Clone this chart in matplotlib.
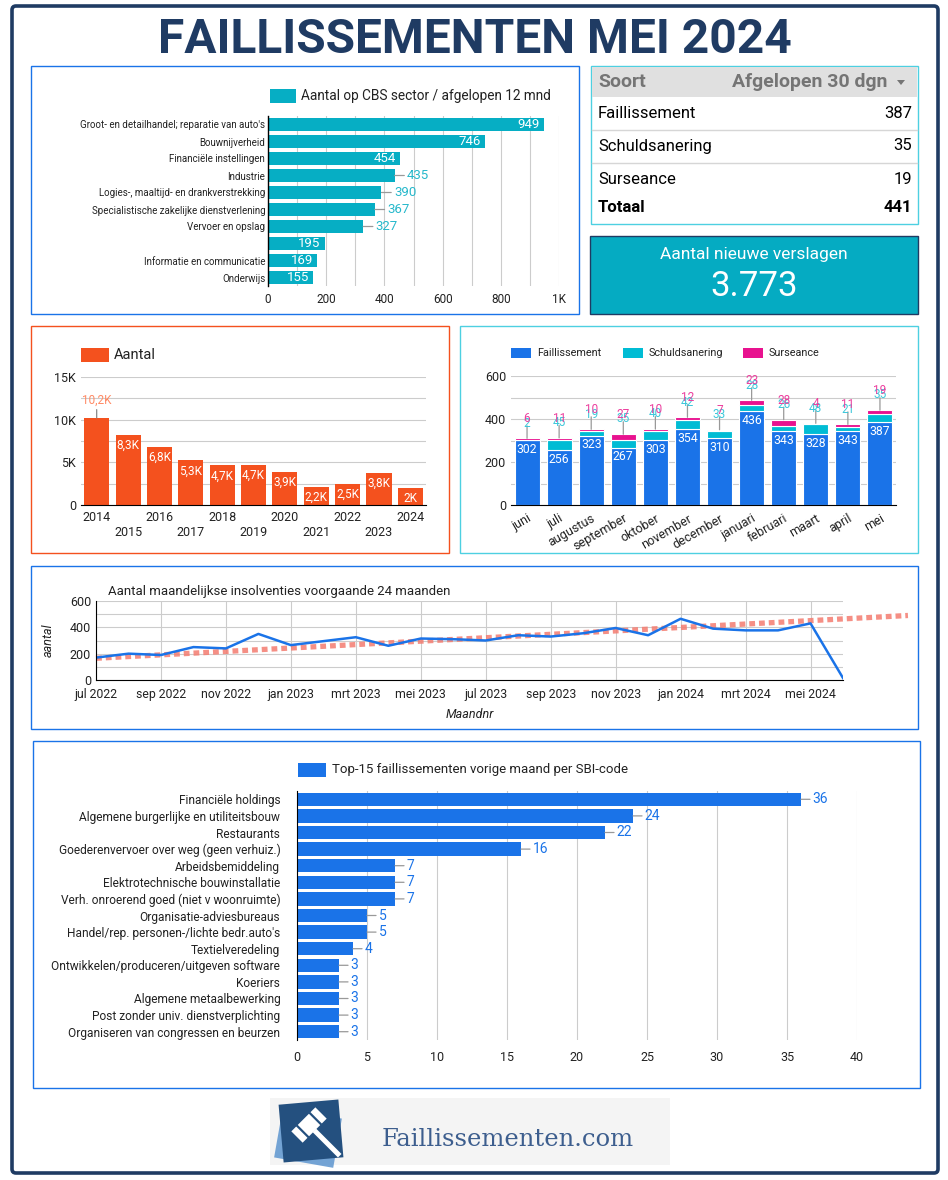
import matplotlib
matplotlib.use('Agg')
import matplotlib.pyplot as plt
from matplotlib.patches import Rectangle, Polygon, FancyBboxPatch
import numpy as np

W, H = 948, 1180
plt.rcParams['font.family'] = ['Roboto', 'DejaVu Sans']

# ---------------- data ----------------
title_text = 'FAILLISSEMENTEN MEI 2024'

cbs_sectors = ["Groot- en detailhandel; reparatie van auto's", 'Bouwnijverheid',
               'Financiële instellingen', 'Industrie',
               'Logies-, maaltijd- en drankverstrekking',
               'Specialistische zakelijke dienstverlening', 'Vervoer en opslag', '',
               'Informatie en communicatie', 'Onderwijs']
cbs_values = [949, 746, 454, 435, 390, 367, 327, 195, 169, 155]
cbs_label_inside = [True, True, True, False, False, False, False, True, True, True]

table_rows = ['Faillissement', 'Schuldsanering', 'Surseance']
table_values = [387, 35, 19]
table_total = 441
new_reports_label = 'Aantal nieuwe verslagen'
new_reports_value = '3.773'

years = [2014, 2015, 2016, 2017, 2018, 2019, 2020, 2021, 2022, 2023, 2024]
year_values = [10200, 8260, 6800, 5260, 4650, 4720, 3900, 2160, 2500, 3760, 2000]

months12 = ['juni', 'juli', 'augustus', 'september', 'oktober', 'november',
            'december', 'januari', 'februari', 'maart', 'april', 'mei']
faill = [302, 256, 323, 267, 303, 354, 310, 436, 343, 328, 343, 387]
schuld = [2, 45, 19, 35, 40, 42, 33, 28, 26, 48, 21, 35]
surs = [6, 11, 10, 27, 10, 12, 7, 23, 28, 4, 11, 19]

monthly_totals = [170, 200, 190, 250, 240, 350, 265, 295, 325, 260, 315, 310,
                  300, 340, 330, 355, 395, 340, 465, 390, 377, 377, 430, 15]
month_tick_labels = ['jul 2022', 'sep 2022', 'nov 2022', 'jan 2023', 'mrt 2023',
                     'mei 2023', 'jul 2023', 'sep 2023', 'nov 2023', 'jan 2024',
                     'mrt 2024', 'mei 2024']
trend_months = [0, 25]
trend_values = [165, 490]

sbi_names = ['Financiële holdings', 'Algemene burgerlijke en utiliteitsbouw',
             'Restaurants', 'Goederenvervoer over weg (geen verhuiz.)',
             'Arbeidsbemiddeling', 'Elektrotechnische bouwinstallatie',
             'Verh. onroerend goed (niet v woonruimte)', 'Organisatie-adviesbureaus',
             'Handel/rep. personen-/lichte bedr.auto\'s', 'Textielveredeling',
             'Ontwikkelen/produceren/uitgeven software', 'Koeriers',
             'Algemene metaalbewerking', 'Post zonder univ. dienstverplichting',
             'Organiseren van congressen en beurzen']
sbi_values = [36, 24, 22, 16, 7, 7, 7, 5, 5, 4, 3, 3, 3, 3, 3]

# ---------------- colours ----------------
NAVY = '#1f3b63'
BLUE = '#1a73e8'
TEAL = '#06aec4'
CYAN_BORDER = '#4dd0e1'
ORANGE = '#f4511e'
S_TEAL = '#00bcd4'
PINK = '#e8128f'
GRID = '#cccccc'
TXT = '#222222'
LOGO_DARK = '#24507f'

fig = plt.figure(figsize=(W / 100, H / 100), dpi=100)
fig.patch.set_facecolor('white')
bg = fig.add_axes([0, 0, 1, 1])
bg.set_xlim(0, W)
bg.set_ylim(H, 0)
bg.axis('off')


def px_axes(x0, y0, x1, y1):
    ax = fig.add_axes([x0 / W, 1 - y1 / H, (x1 - x0) / W, (y1 - y0) / H])
    ax.patch.set_alpha(0)
    return ax


def box(x0, y0, x1, y1, ec, fc='white', lw=1.0):
    bg.add_patch(Rectangle((x0, y0), x1 - x0, y1 - y0, ec=ec, fc=fc, lw=lw))


def style_axes(ax):
    for s in ax.spines.values():
        s.set_visible(False)
    ax.tick_params(length=0, colors=TXT, labelsize=9)


# outer frame + title
bg.add_patch(FancyBboxPatch((12, 6), 926, 1167, boxstyle='round,pad=0,rounding_size=4',
                            ec=NAVY, fc='none', lw=2.6))
bg.text(475, 40, title_text, ha='center', va='center', fontsize=34.5,
        fontweight='bold', color=NAVY)

# ---------------- Panel A: CBS sectors ----------------
box(31, 66, 579, 314, BLUE)
bg.add_patch(Rectangle((270, 89), 26, 14, fc=TEAL, ec='none'))
bg.text(301, 96, 'Aantal op CBS sector / afgelopen 12 mnd', ha='left', va='center',
        fontsize=9.8, color=TXT)
axA = px_axes(268, 116, 559, 286)
style_axes(axA)
yA = np.arange(len(cbs_values))
axA.barh(yA, cbs_values, height=0.82, color=TEAL, zorder=2)
axA.set_ylim(len(cbs_values) - 0.5, -0.5)
axA.set_xlim(0, 1000)
axA.set_xticks([0, 200, 400, 600, 800, 1000])
axA.set_xticklabels(['0', '200', '400', '600', '800', '1K'], fontsize=8.5)
axA.tick_params(axis='x', pad=5)
axA.set_xticks(np.arange(0, 1001, 100), minor=True)
axA.tick_params(which='minor', length=0)
axA.grid(axis='x', which='both', color=GRID, lw=0.8, zorder=0)
axA.set_axisbelow(True)
axA.set_yticks(yA)
axA.set_yticklabels(cbs_sectors, fontsize=7.0)
axA.tick_params(axis='y', pad=2)
axA.spines['left'].set_visible(True)
axA.spines['left'].set_color('black')
axA.spines['left'].set_linewidth(1)
axA.spines['left'].set_zorder(3)
for i, v in enumerate(cbs_values):
    if cbs_label_inside[i]:
        axA.annotate(str(v), (v, i), xytext=(-3, 0), textcoords='offset points',
                     ha='right', va='center', color='white', fontsize=9.5, zorder=4)
    else:
        axA.annotate(str(v), (v, i), xytext=(9, 0), textcoords='offset points',
                     ha='left', va='center', color='#26b8cb', fontsize=9.5, zorder=4,
                     arrowprops=dict(arrowstyle='-', color='#999999', lw=0.9,
                                     shrinkA=0, shrinkB=0, relpos=(0, 0.5)))

# ---------------- Panel B: table ----------------
box(591, 66, 918, 224, CYAN_BORDER)
bg.add_patch(Rectangle((592, 67), 325, 30, fc='#e0e0e0', ec='none'))
bg.text(598, 82, 'Soort', ha='left', va='center', fontsize=14, fontweight='bold',
        color='#757575')
bg.text(887, 82, 'Afgelopen 30 dgn', ha='right', va='center', fontsize=14,
        fontweight='bold', color='#757575')
bg.add_patch(Polygon([[897, 80], [905, 80], [901, 85]], closed=True, fc='#757575',
                     ec='none'))
row_y = [113, 146, 179]
for (name, val, yy) in zip(table_rows, table_values, row_y):
    bg.text(598, yy, name, ha='left', va='center', fontsize=12, color='black')
    bg.text(912, yy, str(val), ha='right', va='center', fontsize=12, color='black')
for yy in [130, 163]:
    bg.plot([592, 917], [yy, yy], color='#d6d6d6', lw=1)
bg.text(598, 207, 'Totaal', ha='left', va='center', fontsize=12, fontweight='bold',
        color='black')
bg.text(912, 207, str(table_total), ha='right', va='center', fontsize=12,
        fontweight='bold', color='black')

# ---------------- Panel C: KPI ----------------
box(590, 236, 918, 314, NAVY, fc='#05abc2', lw=1)
bg.text(754, 255, new_reports_label, ha='center', va='center', fontsize=12.5,
        color='white')
bg.text(754, 286, new_reports_value, ha='center', va='center', fontsize=25,
        color='white')

# ---------------- Panel D: yearly ----------------
box(31, 326, 449, 553, ORANGE)
bg.add_patch(Rectangle((81, 348), 28, 14, fc=ORANGE, ec='none'))
bg.text(114, 355, 'Aantal', ha='left', va='center', fontsize=10.5, color=TXT)
axD = px_axes(81, 377, 426, 505)
style_axes(axD)
xD = np.arange(len(years))
axD.bar(xD, year_values, width=0.8, color=ORANGE, zorder=2)
axD.set_xlim(-0.5, len(years) - 0.5)
axD.set_ylim(0, 15000)
axD.set_yticks([0, 5000, 10000, 15000])
axD.set_yticklabels(['0', '5K', '10K', '15K'], fontsize=9)
axD.set_yticks(np.arange(0, 15001, 2500), minor=True)
axD.tick_params(which='minor', length=0)
axD.grid(axis='y', which='both', color=GRID, lw=0.8, zorder=0)
axD.set_axisbelow(True)
axD.set_xticks(xD)
axD.set_xticklabels([str(y) if i % 2 == 0 else '\n' + str(y)
                     for i, y in enumerate(years)], fontsize=9, linespacing=1.25)
axD.tick_params(axis='x', pad=4)
axD.spines['bottom'].set_visible(True)
axD.spines['bottom'].set_color('black')
axD.spines['bottom'].set_zorder(3)


def kfmt(v):
    s = f'{v / 1000:.1f}'
    if s.endswith('.0'):
        s = s[:-2]
    return s.replace('.', ',') + 'K'


for i, v in enumerate(year_values):
    if i == 0:
        axD.annotate(kfmt(v), (i, v), xytext=(0, 8), textcoords='offset points',
                     ha='center', va='bottom', color='#ff8a65', fontsize=8.5,
                     arrowprops=dict(arrowstyle='-', color='#888888', lw=0.9,
                                     shrinkA=0, shrinkB=0, relpos=(0.5, 0)))
    else:
        axD.annotate(kfmt(v), (i, v), xytext=(0, -3), textcoords='offset points',
                     ha='center', va='top', color='white', fontsize=8.5)

# ---------------- Panel E: stacked months ----------------
box(460, 326, 918, 553, CYAN_BORDER)
for (x0, col, lab) in [(511, BLUE, 'Faillissement'), (623, S_TEAL, 'Schuldsanering'),
                       (743, PINK, 'Surseance')]:
    bg.add_patch(Rectangle((x0, 348), 20, 10, fc=col, ec='none'))
    bg.text(x0 + 26, 353, lab, ha='left', va='center', fontsize=7.8, color=TXT)
axE = px_axes(511, 376, 896, 505)
style_axes(axE)
xE = np.arange(len(months12))
f_arr = np.array(faill)
s_arr = np.array(schuld)
u_arr = np.array(surs)
axE.bar(xE, f_arr, width=0.78, color=BLUE, ec='white', lw=0.8, zorder=2)
axE.bar(xE, s_arr, bottom=f_arr, width=0.78, color=S_TEAL, ec='white', lw=0.8, zorder=2)
axE.bar(xE, u_arr, bottom=f_arr + s_arr, width=0.78, color=PINK, ec='white', lw=0.8,
        zorder=2)
axE.set_xlim(-0.5, len(months12) - 0.5)
axE.set_ylim(0, 600)
axE.set_yticks([0, 200, 400, 600])
axE.set_yticklabels(['0', '200', '400', '600'], fontsize=9)
axE.set_yticks(np.arange(0, 601, 100), minor=True)
axE.tick_params(which='minor', length=0)
axE.grid(axis='y', which='both', color=GRID, lw=0.8, zorder=0)
axE.set_axisbelow(True)
axE.set_xticks(xE)
axE.set_xticklabels(months12, rotation=30, ha='right', rotation_mode='anchor',
                    fontsize=9)
axE.tick_params(axis='x', pad=5)
axE.spines['bottom'].set_visible(True)
axE.spines['bottom'].set_color('black')
axE.spines['bottom'].set_zorder(3)
for i in range(len(months12)):
    top = faill[i] + schuld[i] + surs[i]
    axE.annotate(str(faill[i]), (i, faill[i]), xytext=(0, -2), textcoords='offset points',
                 ha='center', va='top', color='white', fontsize=8.8, zorder=4)
    axE.annotate('', (i, top), xytext=(0, 9), textcoords='offset points',
                 arrowprops=dict(arrowstyle='-', color='#999999', lw=0.9,
                                 shrinkA=0, shrinkB=0))
    axE.annotate(str(schuld[i]), (i, top), xytext=(0, 11), textcoords='offset points',
                 ha='center', va='center', color='#3cc7da', fontsize=8.5, zorder=4)
    axE.annotate(str(surs[i]), (i, top), xytext=(0, 14), textcoords='offset points',
                 ha='center', va='center', color='#ec3f9e', fontsize=8.5, zorder=4)

# ---------------- Panel F: monthly line ----------------
box(31, 566, 918, 729, BLUE)
bg.text(108, 591, 'Aantal maandelijkse insolventies voorgaande 24 maanden', ha='left',
        va='center', fontsize=9.5, color=TXT)
axF = px_axes(96, 601, 843, 680)
style_axes(axF)
mF = np.arange(len(monthly_totals))
axF.plot(mF, monthly_totals, color=BLUE, lw=1.8, zorder=3)
axF.plot(trend_months, trend_values, color='#f47c70', alpha=0.85, lw=3.8,
         linestyle=(0, (1.1, 0.75)), solid_capstyle='butt', dash_capstyle='butt',
         clip_on=False, zorder=2)
axF.set_xlim(0, 23)
axF.set_ylim(0, 600)
axF.set_yticks([0, 200, 400, 600])
axF.set_yticklabels(['0', '200', '400', '600'], fontsize=9)
axF.set_yticks(np.arange(0, 601, 100), minor=True)
axF.set_xticks(np.arange(0, 23, 2))
axF.set_xticklabels(month_tick_labels, fontsize=8.8)
axF.tick_params(which='minor', length=0)
axF.tick_params(axis='x', pad=6)
axF.grid(axis='y', which='both', color=GRID, lw=0.8, zorder=0)
axF.grid(axis='x', which='major', color=GRID, lw=0.8, zorder=0)
axF.set_axisbelow(True)
for s in ['left', 'bottom']:
    axF.spines[s].set_visible(True)
    axF.spines[s].set_color('black')
    axF.spines[s].set_zorder(4)
bg.text(48, 640, 'aantal', rotation=90, ha='center', va='center', fontsize=9,
        style='italic', color=TXT)
bg.text(470, 715, 'Maandnr', ha='center', va='center', fontsize=9, style='italic',
        color=TXT)

# ---------------- Panel G: top-15 SBI ----------------
box(33, 741, 920, 1088, BLUE)
bg.add_patch(Rectangle((298, 763), 28, 14, fc=BLUE, ec='none'))
bg.text(332, 770, 'Top-15 faillissementen vorige maand per SBI-code', ha='left',
        va='center', fontsize=9.5, color=TXT)
axG = px_axes(297, 791, 857, 1040)
style_axes(axG)
yG = np.arange(len(sbi_values))
axG.barh(yG, sbi_values, height=0.8, color=BLUE, zorder=2)
axG.set_ylim(len(sbi_values) - 0.5, -0.5)
axG.set_xlim(0, 40)
axG.set_xticks(np.arange(0, 41, 5))
axG.set_xticklabels([str(v) for v in range(0, 41, 5)], fontsize=9)
axG.tick_params(axis='x', pad=8)
axG.grid(axis='x', color=GRID, lw=0.8, zorder=0)
axG.set_axisbelow(True)
axG.set_yticks(yG)
axG.set_yticklabels(sbi_names, fontsize=8.6)
axG.tick_params(axis='y', pad=12)
axG.spines['left'].set_visible(True)
axG.spines['left'].set_color('black')
axG.spines['left'].set_zorder(3)
for i, v in enumerate(sbi_values):
    axG.annotate(str(v), (v, i), xytext=(8.5, 0), textcoords='offset points',
                 ha='left', va='center', color=BLUE, fontsize=10, zorder=4,
                 arrowprops=dict(arrowstyle='-', color='#999999', lw=0.9,
                                 shrinkA=0, shrinkB=0, relpos=(0, 0.5)))

# ---------------- Panel H: logo ----------------
bg.add_patch(Rectangle((270, 1098), 400, 67, fc='#f4f4f4', ec='none'))


def rot_rect(cx, cy, w, h, ang):
    a = np.deg2rad(ang)
    pts = np.array([[-w / 2, -h / 2], [w / 2, -h / 2], [w / 2, h / 2], [-w / 2, h / 2]])
    R = np.array([[np.cos(a), -np.sin(a)], [np.sin(a), np.cos(a)]])
    return pts @ R.T + np.array([cx, cy])


bg.add_patch(Polygon(rot_rect(308, 1138, 60, 50, 10), closed=True, fc='#5d95cf',
                     ec='none', alpha=0.85))
bg.add_patch(Polygon(rot_rect(311, 1131, 60, 58, -5), closed=True, fc=LOGO_DARK,
                     ec='none'))
# gavel handle and head
bg.add_patch(Polygon(rot_rect(327, 1143, 36, 5, 45), closed=True, fc='white', ec='none'))
bg.add_patch(Polygon(rot_rect(309, 1125, 34, 16, -45), closed=True, fc='white',
                     ec='none'))
for d in (-9, 9):
    cx = 309 + d * 0.7071
    cy = 1125 - d * 0.7071
    bg.add_patch(Polygon(rot_rect(cx, cy, 17, 2.2, 45), closed=True, fc=LOGO_DARK,
                         ec='none'))
bg.text(382, 1140, 'Faillissementen.com', ha='left', va='center', fontsize=17.5,
        family='DejaVu Serif', color='#3d5e8e')

fig.savefig('out.png', dpi=100, facecolor='white')
